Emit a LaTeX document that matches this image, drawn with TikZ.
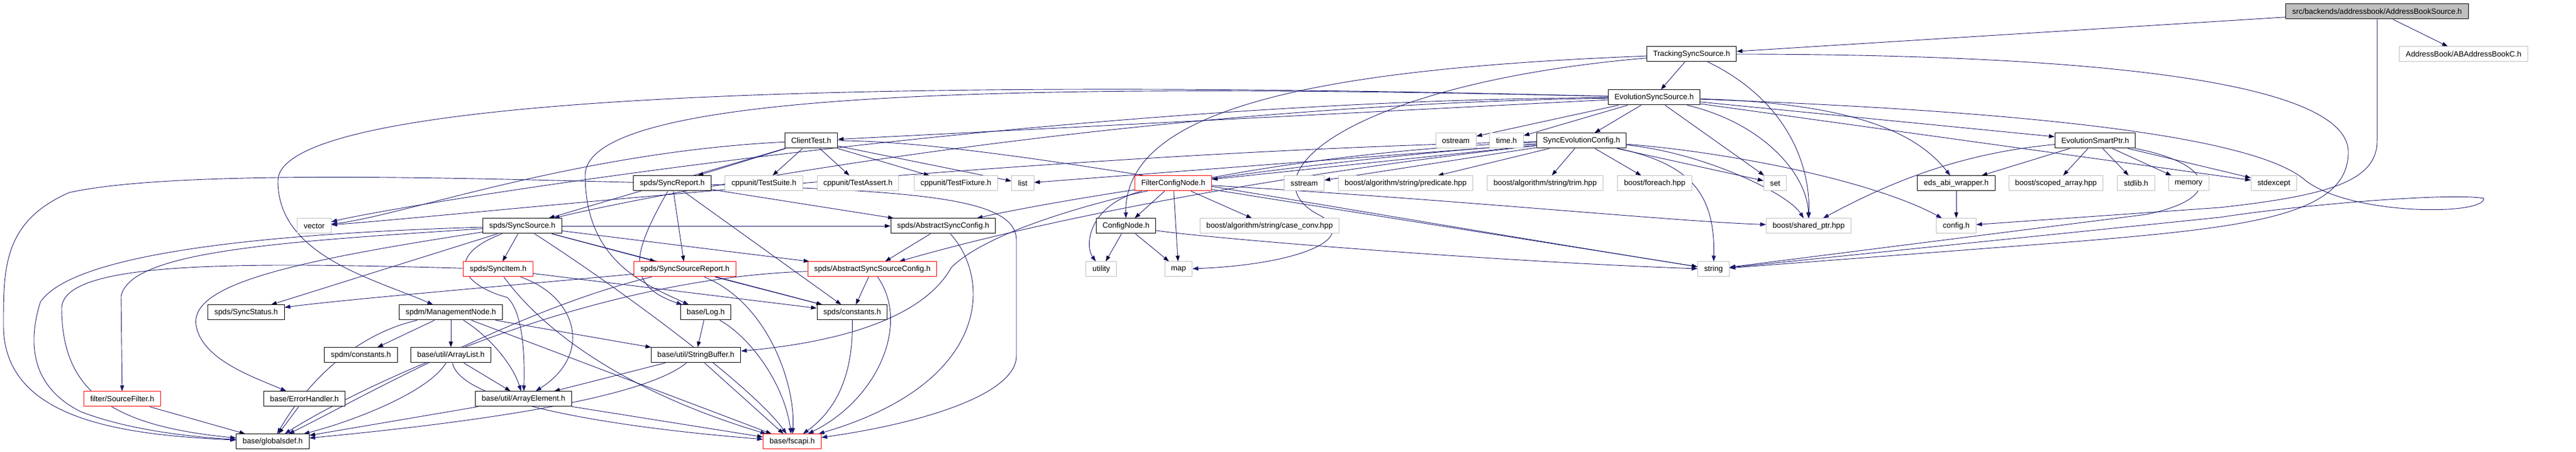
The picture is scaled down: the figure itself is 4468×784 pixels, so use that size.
\documentclass[tikz,border=0pt]{standalone}
\usepackage{fontspec}
\setmainfont{Liberation Sans}
\usetikzlibrary{arrows.meta}
\definecolor{depblue}{HTML}{191970}
\definecolor{extgray}{HTML}{BFBFBF}
\pgfdeclarelayer{background}
\pgfsetlayers{background,main}
\tikzset{
  hdr/.style={draw=black, fill=white, line width=1pt, minimum height=26pt, inner xsep=11pt, inner ysep=0pt, font=\fontsize{13.3}{16}\selectfont},
  ext/.style={hdr, draw=extgray},
  trunc/.style={hdr, draw=red},
  top/.style={hdr, fill=extgray},
  dep/.style={->, draw=depblue, line width=0.9pt},
}
\begin{document}
\begin{tikzpicture}[x=1pt, y=1pt, >={Triangle[length=10pt,width=7pt]}]
  \useasboundingbox (0,0) rectangle (4468,784);
  % rows from the top
  \node[top] (root) at (4123,764) {src/backends/addressbook/AddressBookSource.h};
  \node[hdr] (tracking) at (2934,690) {TrackingSyncSource.h};
  \node[ext] (abbook) at (4273,690) {AddressBook/ABAddressBookC.h};
  \node[hdr] (ess) at (2869,615) {EvolutionSyncSource.h};
  \node[hdr] (clienttest) at (1407,540) {ClientTest.h};
  \node[ext] (ostream) at (2525,540) {ostream};
  \node[ext] (timeh) at (2613,540) {time.h};
  \node[hdr] (secfg) at (2743,540) {SyncEvolutionConfig.h};
  \node[hdr] (smartptr) at (3634,540) {EvolutionSmartPtr.h};
  \node[hdr] (syncreport) at (1166,466) {spds/SyncReport.h};
  \node[ext] (testsuite) at (1325,466) {cppunit/TestSuite.h};
  \node[ext] (testassert) at (1488,466) {cppunit/TestAssert.h};
  \node[ext] (testfixture) at (1658,466) {cppunit/TestFixture.h};
  \node[ext] (list) at (1774,466) {list};
  \node[trunc] (filtercfg) at (2035,466) {FilterConfigNode.h};
  \node[ext] (sstream) at (2262,466) {sstream};
  \node[ext] (predicate) at (2438,466) {boost/algorithm/string/predicate.hpp};
  \node[ext] (trim) at (2680,466) {boost/algorithm/string/trim.hpp};
  \node[ext] (foreach) at (2870,466) {boost/foreach.hpp};
  \node[ext] (set) at (3079,466) {set};
  \node[hdr] (edsabi) at (3393,466) {eds\_abi\_wrapper.h};
  \node[ext] (scoped) at (3566,466) {boost/scoped\_array.hpp};
  \node[ext] (stdlibh) at (3705,466) {stdlib.h};
  \node[ext] (memory) at (3796,466) {memory};
  \node[ext] (stdexcept) at (3944,466) {stdexcept};
  \node[ext] (vector) at (545,392) {vector};
  \node[hdr] (syncsource) at (906,392) {spds/SyncSource.h};
  \node[hdr] (abscfg) at (1636,392) {spds/AbstractSyncConfig.h};
  \node[hdr] (confignode) at (1953,392) {ConfigNode.h};
  \node[ext] (caseconv) at (2202,392) {boost/algorithm/string/case\_conv.hpp};
  \node[ext] (sharedptr) at (3137,392) {boost/shared\_ptr.hpp};
  \node[ext] (configh) at (3393,392) {config.h};
  \node[trunc] (syncitem) at (864,317) {spds/SyncItem.h};
  \node[trunc] (ssreport) at (1188,317) {spds/SyncSourceReport.h};
  \node[trunc] (asscfg) at (1513,317) {spds/AbstractSyncSourceConfig.h};
  \node[ext] (utility) at (1910,317) {utility};
  \node[ext] (map) at (2044,317) {map};
  \node[ext] (string) at (2972,317) {string};
  \node[hdr] (syncstatus) at (427,242) {spds/SyncStatus.h};
  \node[hdr] (mgmtnode) at (782,242) {spdm/ManagementNode.h};
  \node[hdr] (log) at (1224,242) {base/Log.h};
  \node[hdr] (constants) at (1478,242) {spds/constants.h};
  \node[hdr] (spdmconst) at (626,168) {spdm/constants.h};
  \node[hdr] (arraylist) at (782,168) {base/util/ArrayList.h};
  \node[hdr] (stringbuf) at (1207,168) {base/util/StringBuffer.h};
  \node[trunc] (sourcefilter) at (212,92) {filter/SourceFilter.h};
  \node[hdr] (errorhandler) at (528,92) {base/ErrorHandler.h};
  \node[hdr] (arrayelem) at (908,92) {base/util/ArrayElement.h};
  \node[hdr] (globalsdef) at (473,18) {base/globalsdef.h};
  \node[trunc] (fscapi) at (1374,18) {base/fscapi.h};

  \begin{pgfonlayer}{background}
  % root
  \path[dep] (root) edge (tracking) edge (abbook);
  \draw[dep] (root) -- (4123,540) .. controls (4123,470) and (4040,445) .. (3850,424) -- (configh);
  % tracking
  \path[dep] (tracking) edge (ess);
  \draw[dep] (tracking) .. controls (2300,665) and (1950,600) .. (confignode);
  \draw[dep] (tracking) .. controls (2350,640) and (2150,480) .. (2290,410) .. controls (2360,370) and (2250,325) .. (map);
  \draw[dep] (tracking) .. controls (3080,620) and (3140,520) .. (sharedptr);
  \draw[dep] (tracking) .. controls (3500,690) and (4073,660) .. (4073,520) .. controls (4073,410) and (3900,390) .. (3600,365) -- (string);
  % ess
  \path[dep] (ess) edge (clienttest) edge (ostream) edge (timeh) edge (secfg) edge (smartptr) edge (set) edge (stdexcept);
  \draw[dep] (ess) .. controls (3060,570) and (3135,480) .. (sharedptr);
  \draw[dep] (ess) .. controls (3200,605) and (3320,560) .. (edsabi);
  \draw[dep] (ess) .. controls (1800,610) and (700,430) .. (vector);
  \draw[dep] (ess) .. controls (1900,600) and (1100,440) .. (syncsource);
  \draw[dep] (ess) .. controls (1500,650) and (482,620) .. (482,470) .. controls (482,340) and (650,300) .. (mgmtnode);
  \draw[dep] (ess) .. controls (1800,640) and (1015,630) .. (1015,480) .. controls (1015,330) and (1120,290) .. (log);
  \draw[dep] (ess) .. controls (3400,595) and (3900,560) .. (4000,470) .. controls (4080,410) and (4310,410) .. (4308,440) .. controls (4250,450) and (4000,430) .. (3850,407) -- (string);
  % clienttest
  \path[dep] (clienttest) edge (syncreport) edge (testsuite) edge (testassert) edge (testfixture) edge (list) edge (syncsource);
  \draw[dep] (clienttest) .. controls (1700,540) and (2200,440) .. (string);
  \draw[dep] (clienttest) .. controls (1000,520) and (700,410) .. (vector);
  % secfg
  \path[dep] (secfg) edge (list) edge (filtercfg) edge (sstream) edge (predicate) edge (trim) edge (foreach) edge (set);
  \draw[dep] (secfg) .. controls (3000,520) and (3250,470) .. (configh);
  \draw[dep] (secfg) .. controls (2950,520) and (3100,450) .. (sharedptr);
  \draw[dep] (secfg) .. controls (2930,500) and (2975,450) .. (string);
  \draw[dep] (secfg) .. controls (1800,520) and (800,410) .. (vector);
  \draw[dep] (secfg) .. controls (2200,500) and (1800,430) .. (abscfg);
  \draw[dep] (secfg) .. controls (2200,480) and (1800,400) .. (asscfg);
  \draw[dep] (secfg) .. controls (2200,520) and (1750,420) .. (1650,320) .. controls (1600,230) and (1450,190) .. (stringbuf);
  % filtercfg
  \path[dep] (filtercfg) edge (confignode) edge (map) edge (caseconv) edge (string);
  \draw[dep] (filtercfg) .. controls (1890,430) and (1880,360) .. (utility);
  \draw[dep] (filtercfg) .. controls (2500,440) and (2900,400) .. (sharedptr);
  % confignode
  \path[dep] (confignode) edge (utility) edge (map);
  \draw[dep] (confignode) .. controls (2100,370) and (2600,330) .. (string);
  % smartptr
  \path[dep] (smartptr) edge (edsabi) edge (scoped) edge (stdlibh) edge (memory) edge (stdexcept);
  \draw[dep] (smartptr) .. controls (3420,520) and (3300,480) .. (sharedptr);
  \draw[dep] (smartptr) .. controls (3840,500) and (3860,440) .. (3722,412) -- (string);
  \path[dep] (edsabi) edge (configh);
  % syncreport
  \path[dep] (syncreport) edge (ssreport) edge (abscfg) edge (constants);
  \draw[dep] (syncreport) .. controls (1100,350) and (1080,290) .. (log);
  \draw[dep] (syncreport) .. controls (1600,452) and (1763,440) .. (1763,367) -- (1763,167) .. controls (1763,100) and (1600,50) .. (fscapi);
  \draw[dep] (syncreport) .. controls (800,475) and (300,490) .. (120,450) .. controls (6,400) and (6,320) .. (6,220) .. controls (6,60) and (200,30) .. (globalsdef);
  % syncsource
  \path[dep] (syncsource) edge (syncitem) edge (ssreport) edge (asscfg) edge (abscfg) edge (syncstatus) edge (constants);
  \draw[dep] (syncsource) .. controls (500,330) and (330,290) .. (340,220) .. controls (350,160) and (440,130) .. (errorhandler);
  \draw[dep] (syncsource) .. controls (770,340) and (800,290) .. (880,268) .. controls (910,240) and (910,150) .. (arrayelem);
  \draw[dep] (syncsource) .. controls (500,365) and (225,350) .. (210,270) -- (sourcefilter);
  \draw[dep] (syncsource) .. controls (500,380) and (130,350) .. (70,260) .. controls (45,180) and (60,110) .. (140,70) .. controls (230,35) and (350,25) .. (globalsdef);
  \draw[dep] (syncsource) .. controls (1050,300) and (1300,120) .. (fscapi);
  % syncitem
  \path[dep] (syncitem) edge (constants);
  \draw[dep] (syncitem) .. controls (1000,270) and (1030,170) .. (arrayelem);
  \draw[dep] (syncitem) .. controls (400,330) and (110,330) .. (107,250) .. controls (107,100) and (200,45) .. (globalsdef);
  \draw[dep] (syncitem) .. controls (950,200) and (1100,100) .. (fscapi);
  % ssreport
  \path[dep] (ssreport) edge (constants);
  \draw[dep] (ssreport) .. controls (900,290) and (600,265) .. (syncstatus);
  \draw[dep] (ssreport) .. controls (1330,260) and (1380,120) .. (fscapi);
  \draw[dep] (ssreport) .. controls (900,250) and (600,80) .. (globalsdef);
  % config headers
  \path[dep] (abscfg) edge (asscfg);
  \draw[dep] (abscfg) .. controls (1720,300) and (1720,120) .. (fscapi);
  \path[dep] (asscfg) edge (constants);
  \draw[dep] (asscfg) .. controls (1580,220) and (1520,90) .. (fscapi);
  \draw[dep] (asscfg) .. controls (1000,300) and (600,100) .. (globalsdef);
  % mgmtnode
  \path[dep] (mgmtnode) edge (spdmconst) edge (arraylist) edge (stringbuf) edge (fscapi);
  \draw[dep] (mgmtnode) .. controls (850,200) and (890,150) .. (arrayelem);
  \draw[dep] (mgmtnode) .. controls (600,200) and (520,100) .. (globalsdef);
  % base
  \path[dep] (log) edge (stringbuf);
  \draw[dep] (log) .. controls (1300,200) and (1360,120) .. (fscapi);
  \draw[dep] (constants) .. controls (1480,150) and (1460,80) .. (fscapi);
  \path[dep] (arraylist) edge (arrayelem);
  \draw[dep] (arraylist) .. controls (740,100) and (600,50) .. (globalsdef);
  \draw[dep] (arraylist) .. controls (800,80) and (1100,40) .. (fscapi);
  \path[dep] (stringbuf) edge (arrayelem) edge (fscapi);
  \draw[dep] (stringbuf) .. controls (1100,80) and (700,40) .. (globalsdef);
  \path[dep] (sourcefilter) edge (globalsdef);
  \path[dep] (errorhandler) edge (globalsdef);
  \path[dep] (arrayelem) edge (globalsdef) edge (fscapi);
  \end{pgfonlayer}
\end{tikzpicture}
\end{document}
